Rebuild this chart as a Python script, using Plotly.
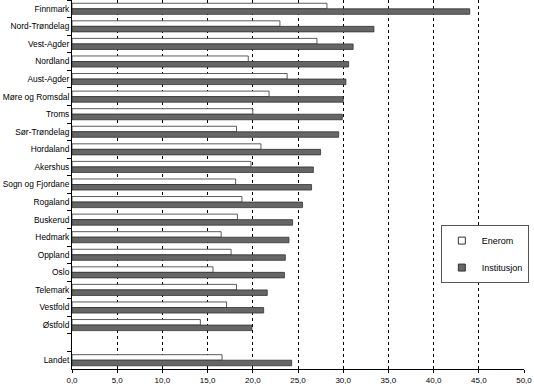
import plotly.graph_objects as go

categories = ["Finnmark", "Nord-Trøndelag", "Vest-Agder", "Nordland", "Aust-Agder",
              "Møre og Romsdal", "Troms", "Sør-Trøndelag", "Hordaland", "Akershus",
              "Sogn og Fjordane", "Rogaland", "Buskerud", "Hedmark", "Oppland", "Oslo",
              "Telemark", "Vestfold", "Østfold", " ", "Landet"]
enerom = [28.2, 23.0, 27.1, 19.5, 23.8, 21.8, 20.0, 18.2, 20.9, 19.8,
          18.1, 18.8, 18.3, 16.5, 17.6, 15.6, 18.2, 17.1, 14.2, None, 16.6]
institusjon = [44.0, 33.4, 31.1, 30.6, 30.3, 30.0, 29.9, 29.5, 27.5, 26.7,
               26.5, 25.5, 24.4, 24.0, 23.6, 23.5, 21.6, 21.2, 19.9, None, 24.3]
xticks = [0, 5, 10, 15, 20, 25, 30, 35, 40, 45, 50]
xticklabels = ["0,0", "5,0", "10,0", "15,0", "20,0", "25,0", "30,0", "35,0", "40,0", "45,0", "50,0"]

fig = go.Figure()
fig.add_trace(go.Bar(y=categories, x=enerom, orientation="h", name="Enerom", showlegend=False,
                     marker=dict(color="white", line=dict(color="#333333", width=0.8))))
fig.add_trace(go.Bar(y=categories, x=institusjon, orientation="h", name="Institusjon", showlegend=False,
                     marker=dict(color="#666666", line=dict(color="#333333", width=0.8))))
# legend entries
fig.add_trace(go.Scatter(x=[None], y=[None], mode="markers", name="Enerom", legendgroup="a",
                         marker=dict(symbol="square", size=7, color="white",
                                     line=dict(color="#333333", width=1))))
fig.add_trace(go.Scatter(x=[None], y=[None], mode="markers", name="Institusjon", legendgroup="b",
                         marker=dict(symbol="square", size=7, color="#666666",
                                     line=dict(color="#333333", width=1))))

fig.update_layout(
    width=534, height=389,
    margin=dict(l=72, r=10, t=0, b=20, autoexpand=False),
    paper_bgcolor="white", plot_bgcolor="white",
    barmode="group", bargap=0.37, bargroupgap=0.0,
    font=dict(family="Liberation Sans, Arial", size=8, color="black"),
    legend=dict(x=0.816, y=0.39, xanchor="left", yanchor="top",
                bgcolor="white", bordercolor="#555555", borderwidth=1,
                font=dict(size=9), tracegroupgap=8, itemwidth=30),
    showlegend=True,
)
fig.update_xaxes(range=[0, 50], tickvals=xticks, ticktext=xticklabels, automargin=False,
                 showgrid=True, gridcolor="black", griddash="dot", gridwidth=1,
                 showline=True, linecolor="black", linewidth=1,
                 ticks="outside", ticklen=3, tickcolor="black",
                 zeroline=False, tickfont=dict(size=8))
fig.update_yaxes(categoryorder="array", categoryarray=categories, autorange="reversed",
                 automargin=False,
                 showline=True, linecolor="black", linewidth=1,
                 ticks="outside", tickson="boundaries", ticklen=4, tickcolor="black",
                 showgrid=False, tickfont=dict(size=8.4))

fig.write_html("out.html")
